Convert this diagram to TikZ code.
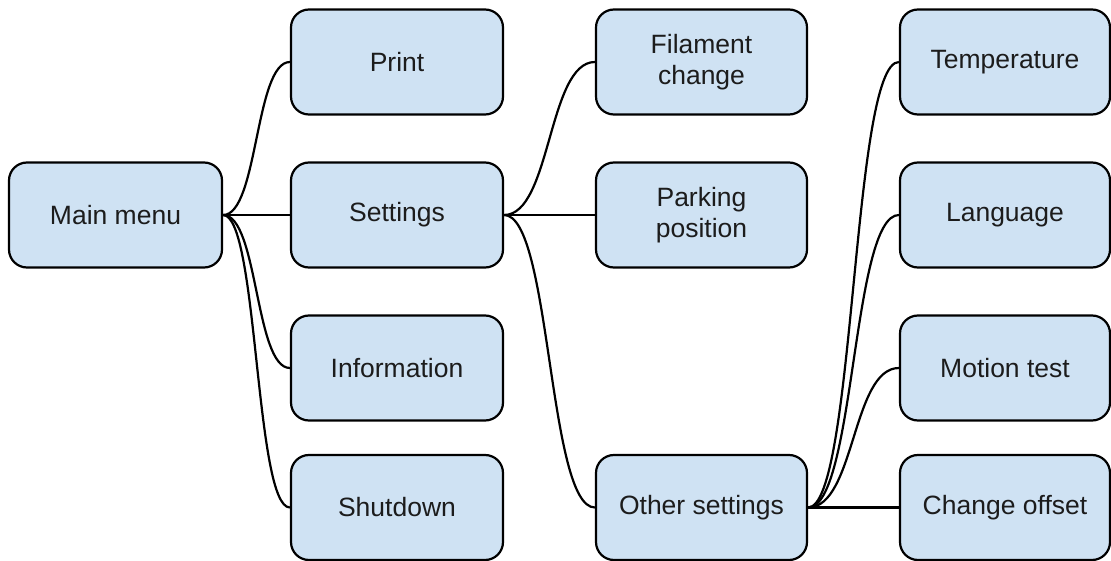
\documentclass[tikz,border=0pt]{standalone}
\usepackage{fontspec}
\setmainfont{Liberation Sans}
\definecolor{boxfill}{HTML}{CFE2F3}
\definecolor{boxtext}{HTML}{1C1C1C}
\tikzset{
  menubox/.style={draw=black, line width=2.2pt, fill=boxfill, rounded corners=18pt,
    minimum width=212pt, minimum height=105pt, inner sep=0pt, align=center,
    text=boxtext, font=\fontsize{26.5}{30.5}\selectfont},
  link/.style={draw=black, line width=2.2pt, out=0, in=180},
  near/.style={link, out distance=35pt, in distance=35pt},
  far/.style={link, out distance=47pt, in distance=47pt}
}
\begin{document}
\begin{tikzpicture}[x=1pt, y=-1pt]
\useasboundingbox (0,0) rectangle (1111,561);
% column 0
\node[menubox, minimum width=213pt] (main) at (115.5,215) {Main menu};
% column 1
\node[menubox] (print) at (397,62) {Print};
\node[menubox] (settings) at (397,215) {Settings};
\node[menubox] (info) at (397,368) {Information};
\node[menubox] (shut) at (397,507.5) {Shutdown};
% column 2
\node[menubox, minimum width=211pt] (fil) at (701.5,62) {Filament\\change};
\node[menubox, minimum width=211pt] (park) at (701.5,215) {Parking\\position};
\node[menubox, minimum width=211pt] (other) at (701.5,507.5) {Other settings};
% column 3
\node[menubox, minimum width=210pt] (temp) at (1005,62) {Temperature};
\node[menubox, minimum width=210pt] (lang) at (1005,215) {Language};
\node[menubox, minimum width=210pt] (motion) at (1005,368) {Motion test};
\node[menubox, minimum width=210pt] (offset) at (1005,507.5) {Change offset};
% connectors
\foreach \t in {print,settings,info,shut}
  \draw[near] (main.east) to (\t.west);
\foreach \t in {fil,park,other}
  \draw[far] (settings.east) to (\t.west);
\foreach \t in {temp,lang,motion,offset}
  \draw[far] (other.east) to (\t.west);
\end{tikzpicture}
\end{document}
